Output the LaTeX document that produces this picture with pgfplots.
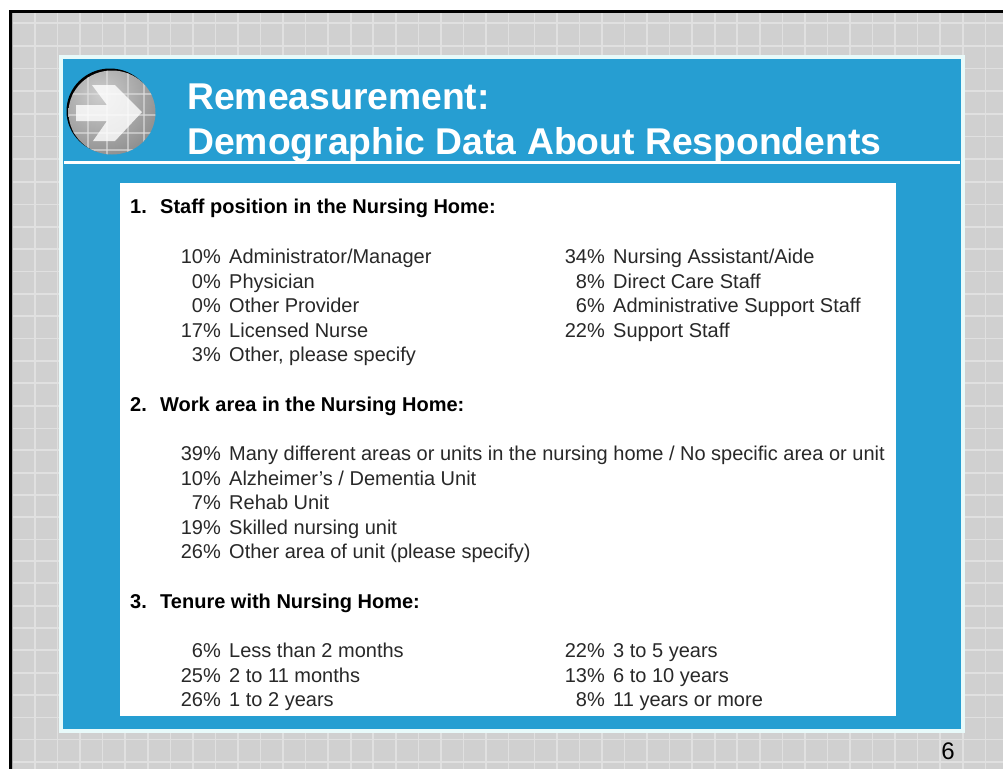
\documentclass[border=0pt]{standalone}
\usepackage{fontspec}
\setmainfont{Liberation Sans}
\usepackage{pgfplots}
\pgfplotsset{compat=1.18}
\definecolor{slidegray}{RGB}{208,208,208}
\definecolor{gridline}{RGB}{224,224,224}
\definecolor{framegray}{RGB}{170,170,170}
\definecolor{panelblue}{RGB}{38,158,210}
\definecolor{panelrim}{RGB}{232,250,250}
\definecolor{bodytext}{RGB}{40,40,40}
\definecolor{badgelight}{RGB}{205,205,205}
\definecolor{badgedark}{RGB}{135,135,135}

% filled box, in pixel coordinates of the slide
\newcommand{\boxat}[5]{\addplot[fill=#1,draw=none] coordinates {(#2,#3) (#4,#3) (#4,#5) (#2,#5)} --cycle;}
% percentage right aligned at #1, label after it at #2, baseline #3
\newcommand{\row}[5]{%
  \node[anchor=base east,font=\fontsize{20}{22}\selectfont,text=bodytext,inner sep=0pt] at (axis cs:#1,#3) {#4\%};
  \node[anchor=base west,font=\fontsize{20}{22}\selectfont,text=bodytext,inner sep=0pt] at (axis cs:#2,#3) {#5};}
\newcommand{\heading}[3]{%
  \node[anchor=base west,font=\fontsize{20}{22}\selectfont\bfseries,text=black,inner sep=0pt] at (axis cs:130,#1) {#2};
  \node[anchor=base west,font=\fontsize{20}{22}\selectfont\bfseries,text=black,inner sep=0pt] at (axis cs:160,#1) {#3};}

\begin{document}
\begin{tikzpicture}
\begin{axis}[
    at={(0,0)},
    scale only axis,
    width=1003pt,
    height=769pt,
    xmin=0, xmax=1003,
    ymin=0, ymax=769,
    y dir=reverse,
    axis line style={draw=none},
    xtick={35,57.55,...,509,534.3,556.85,...,1003},
    ytick={23,45.7,68.4,91.1,113.8,136.5,159.2,182,204.4,226.7,249,271.4,293.8,316,338.4,360.7,383,
           405.7,428.3,450,472.7,495,516.7,539.3,561,583,606,628,650,672.7,695,717.3,739.3,761.7},
    xticklabels={},
    yticklabels={},
    xticklabel style={overlay},
    yticklabel style={overlay},
    major tick length=0pt,
    grid=major,
    grid style={gridline,line width=1.6pt},
    axis background/.style={fill=slidegray},
]
% page margin and black frame
\boxat{white}{0}{0}{1003}{10}
\boxat{white}{0}{0}{8.5}{769}
\boxat{framegray}{11}{13}{13}{769}
\boxat{black}{8.5}{10}{1003}{13}
\boxat{black}{8.5}{10}{11.5}{769}
% panel
\boxat{panelrim}{59}{55}{965}{733}
\boxat{panelblue}{63}{59}{961}{729}
\boxat{white}{64}{160.5}{960}{164}
\boxat{white}{120}{183}{896}{716}

% arrow badge
\fill[black] (axis cs:110,111) ellipse [x radius=43.5pt,y radius=42.5pt];
\begin{scope}
  \clip (axis cs:112,112.5) ellipse [x radius=43.5pt,y radius=42pt];
  \shade[inner color=badgelight,outer color=badgedark] (axis cs:100,95) circle [radius=72pt];
  \draw[gridline,opacity=.6,line width=1.5pt] (axis cs:60,94) -- (axis cs:165,94);
  \draw[gridline,opacity=.6,line width=1.5pt] (axis cs:60,115) -- (axis cs:165,115);
  \draw[gridline,opacity=.6,line width=1.5pt] (axis cs:60,133) -- (axis cs:165,133);
  \draw[gridline,opacity=.6,line width=1.5pt] (axis cs:60,150) -- (axis cs:165,150);
  \draw[gridline,opacity=.6,line width=1.5pt] (axis cs:88,60) -- (axis cs:88,165);
  \draw[gridline,opacity=.6,line width=1.5pt] (axis cs:107,60) -- (axis cs:107,165);
  \draw[gridline,opacity=.6,line width=1.5pt] (axis cs:128,60) -- (axis cs:128,165);
  \draw[gridline,opacity=.6,line width=1.5pt] (axis cs:144,60) -- (axis cs:144,165);
  \fill[white,opacity=.8] (axis cs:76,105) -- (axis cs:107,105) -- (axis cs:92,85) -- (axis cs:115,85)
     -- (axis cs:142,112) -- (axis cs:115,141) -- (axis cs:93,141) -- (axis cs:107,121) -- (axis cs:76,121) -- cycle;
\end{scope}

% title
\node[anchor=base west,font=\fontsize{37.3}{40}\selectfont\bfseries,text=white,inner sep=0pt] at (axis cs:187,109) {Remeasurement:};
\node[anchor=base west,font=\fontsize{37.3}{40}\selectfont\bfseries,text=white,inner sep=0pt] at (axis cs:187,154) {Demographic Data About Respondents};

% question 1
\heading{213}{1.}{Staff position in the Nursing Home:}
\row{221}{229}{263}{10}{Administrator/Manager}
\row{221}{229}{288}{0}{Physician}
\row{221}{229}{312}{0}{Other Provider}
\row{221}{229}{337}{17}{Licensed Nurse}
\row{221}{229}{361}{3}{Other, please specify}
\row{605}{613}{263}{34}{Nursing Assistant/Aide}
\row{605}{613}{288}{8}{Direct Care Staff}
\row{605}{613}{312}{6}{Administrative Support Staff}
\row{605}{613}{337}{22}{Support Staff}

% question 2
\heading{411}{2.}{Work area in the Nursing Home:}
\row{221}{229}{460}{39}{Many different areas or units in the nursing home / No specific area or unit}
\row{221}{229}{485}{10}{Alzheimer's / Dementia Unit}
\row{221}{229}{509}{7}{Rehab Unit}
\row{221}{229}{534}{19}{Skilled nursing unit}
\row{221}{229}{558}{26}{Other area of unit (please specify)}

% question 3
\heading{608}{3.}{Tenure with Nursing Home:}
\row{221}{229}{657}{6}{Less than 2 months}
\row{221}{229}{682}{25}{2 to 11 months}
\row{221}{229}{706}{26}{1 to 2 years}
\row{605}{613}{657}{22}{3 to 5 years}
\row{605}{613}{682}{13}{6 to 10 years}
\row{605}{613}{706}{8}{11 years or more}

% slide number
\node[anchor=base east,font=\fontsize{24}{26}\selectfont,text=black,inner sep=0pt] at (axis cs:955,759) {6};
\end{axis}
\pgfresetboundingbox
\path[use as bounding box] (0,0) rectangle (1003pt,769pt);
\end{tikzpicture}
\end{document}
